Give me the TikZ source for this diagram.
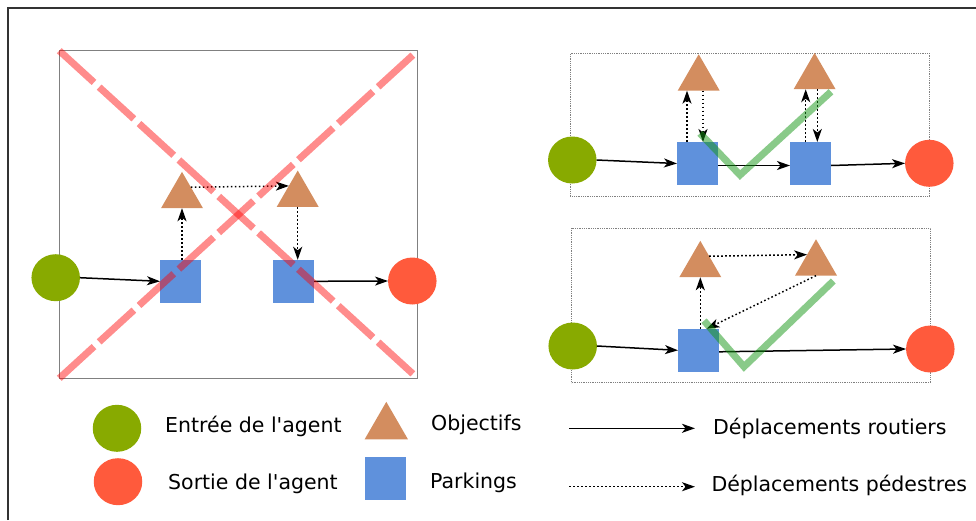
\documentclass[tikz,border=0pt]{standalone}
\usepackage{fontspec}
\setmainfont{DejaVu Sans}
\usetikzlibrary{shapes.geometric}
\usetikzlibrary{arrows.meta}
\definecolor{vertentree}{RGB}{136,170,0}
\definecolor{rougesortie}{RGB}{255,90,60}
\definecolor{bleuparking}{RGB}{95,145,220}
\definecolor{brunobjectif}{RGB}{211,141,95}
\definecolor{vertok}{RGB}{20,150,20}
\tikzset{
	entree/.style={ellipse, fill=vertentree, minimum width=48.5pt, minimum height=47pt, inner sep=0pt, outer sep=0pt},
	sortie/.style={entree, fill=rougesortie},
	parking/.style={rectangle, fill=bleuparking, minimum width=41pt, minimum height=43pt, inner sep=0pt, outer sep=0pt},
	objectif/.style={regular polygon, regular polygon sides=3, fill=brunobjectif, minimum size=48.5pt, inner sep=0pt, outer sep=0pt},
	cadre/.style={draw=gray, line width=0.8pt, inner sep=0pt, outer sep=0pt},
	route/.style={line width=1.5pt, -{Stealth[length=13pt,width=9pt,inset=3.5pt]}},
	pieton/.style={route, dash pattern=on 1.6pt off 2.4pt},
	croix/.style={red, opacity=0.45, line width=7pt, dash pattern=on 47pt off 7pt},
	valide/.style={vertok, opacity=0.5, line width=7pt}
}

\begin{document}
\begin{tikzpicture}[x=1pt, y=-1pt]
	\useasboundingbox (0,0) rectangle (976,520);
	\draw[line width=1.3pt, black!80] (8,520) -- (8,8) -- (976,8);
	\node[cadre, minimum width=358.4pt, minimum height=327.6pt] (pa) at (238.5,214.5) {};
	\node[cadre, densely dotted, minimum width=359pt, minimum height=143.4pt] (pb) at (749.8,125) {};
	\node[cadre, densely dotted, minimum width=358.6pt, minimum height=154.4pt] (pc) at (751,305.5) {};

	\node[entree] (in1) at (55.7,277.7) {};
	\node[parking] (s1) at (180.5,281.3) {};
	\node[parking] (s2) at (293.5,281.3) {};
	\node[sortie] (out1) at (412.3,281) {};
	\node[objectif] (t1) at (182,196.1) {};
	\node[objectif] (t2) at (297.7,194.8) {};

	\node[entree] (in2) at (572.3,160) {};
	\node[parking] (a1) at (697.5,163.5) {};
	\node[parking] (b1) at (810.5,163.5) {};
	\node[sortie] (out2) at (929.3,163.3) {};
	\node[objectif] (ta) at (698.7,78.5) {};
	\node[objectif] (tb) at (814.6,77.1) {};

	\node[entree] (in3) at (572.7,346) {};
	\node[parking] (c1) at (698.5,350.3) {};
	\node[sortie] (out3) at (930.3,349) {};
	\node[objectif] (tc) at (700.3,265.1) {};
	\node[objectif] (td) at (816,263.5) {};

	\draw[route] (in1.east) -- (s1.west);
	\draw[route] (s2.east) -- (out1.west);
	\draw[pieton] (s1.north -| t1.south) -- (t1.south);
	\draw[pieton] (t1.45) -- (t2.135);
	\draw[pieton] (t2.south) -- (t2.south |- s2.north);

	\draw[route] (in2.east) -- (a1.west);
	\draw[route] ([yshift=-2pt]a1.east) -- ([yshift=-2pt]b1.west);
	\draw[route] ([yshift=-2pt]b1.east) -- (out2.west);
	\draw[pieton] ([xshift=-10.5pt]a1.north) -- ([xshift=-10.5pt]a1.north |- ta.south);
	\draw[pieton] ([xshift=4.3pt]ta.south) -- ([xshift=4.3pt]ta.south |- a1.north);
	\draw[pieton] ([xshift=-4.8pt]b1.north) -- ([xshift=-4.8pt]b1.north |- tb.south);
	\draw[pieton] ([xshift=2.7pt]tb.south) -- ([xshift=2.7pt]tb.south |- b1.north);

	\draw[route] (in3.east) -- (c1.west);
	\draw[route] ([yshift=-1.5pt]c1.east) -- (out3.west);
	\draw[pieton] (tc.south |- c1.north) -- (tc.south);
	\draw[pieton] (tc.45) -- (td.135);
	\draw[pieton] (td.south) -- ([xshift=8pt]c1.north);

	\draw[croix] (pa.north west) -- (pa.south east);
	\draw[croix] (pa.south west) -- (pa.north east);
	\draw[valide] (700,133.3) -- (740,175) -- (831,91.7);
	\draw[valide] (704,320.7) -- (744,366.7) -- (833.3,281);

	\begin{scope}[every node/.style={anchor=base west, inner sep=0pt, font=\fontsize{20.5}{24}\selectfont}]
		\node (tin) at (165,432.7) {Entrée de l\textquotesingle agent};
		\node (tout) at (168,489.3) {Sortie de l\textquotesingle agent};
		\node (tobj) at (431,430) {Objectifs};
		\node (tpark) at (430,488.5) {Parkings};
		\node (troute) at (713,434.3) {Déplacements routiers};
		\node (tpied) at (711.3,491.7) {Déplacements pédestres};
	\end{scope}
	\node[entree] (lin) at (117,428.3) {};
	\node[sortie] (lout) at (118,481.7) {};
	\node[objectif, minimum size=50pt] (lobj) at (386.3,426.8) {};
	\node[parking] (lpark) at (385,478.3) {};
	\coordinate (r0) at (569.3,428.3);
	\coordinate (r1) at (695,428.3);
	\coordinate (p0) at (569.3,486.7);
	\coordinate (p1) at (695,486.7);
	\draw[route] (r0) -- (r1);
	\draw[pieton] (p0) -- (p1);
\end{tikzpicture}
\end{document}
